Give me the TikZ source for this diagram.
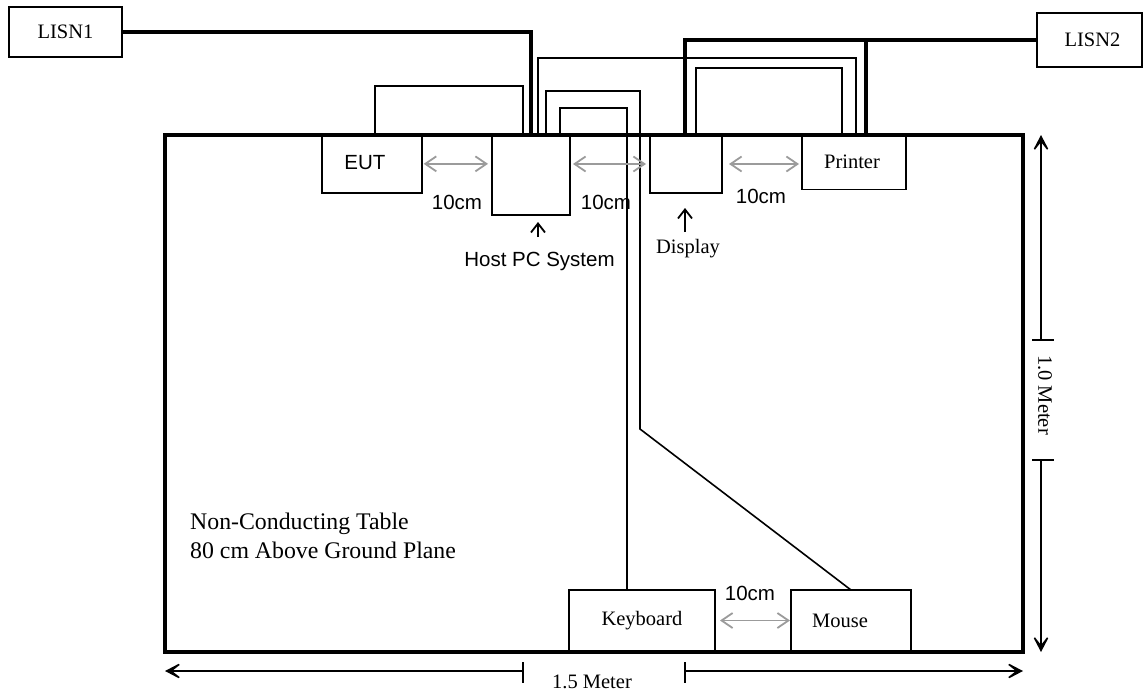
\documentclass[tikz,border=0pt]{standalone}
\usepackage{fontspec}
\setmainfont{Liberation Serif}
\newfontfamily\arialf{Liberation Sans}
\usetikzlibrary{arrows.meta,calc}
\definecolor{dimgrey}{RGB}{155,155,155}
\begin{document}
\begin{tikzpicture}[x=1pt,y=-1pt,
  box/.style={draw, line width=1.9pt, outer sep=0pt, inner sep=0pt, anchor=north west},
  lbl/.style={inner sep=0pt, font=\fontsize{20.5}{24}\selectfont},
  sanslbl/.style={inner sep=0pt, font=\arialf\fontsize{20.5}{24}\selectfont},
  tabletext/.style={inner sep=0pt, anchor=base west, font=\fontsize{23.8}{28}\selectfont},
  cable/.style={line width=1.6pt},
  power/.style={line width=3.2pt},
  gap/.style={draw=dimgrey, line width=1.8pt, {Straight Barb[length=11pt,width=15pt]}-{Straight Barb[length=11pt,width=15pt]}},
  ptr/.style={line width=1.8pt, -{Straight Barb[length=9pt,width=14pt]}},
  dimline/.style={line width=1.5pt},
  bigtip/.tip={Stealth[length=21pt,width=22pt,inset=14pt]}
]
\useasboundingbox (0,0) rectangle (1143,694);

% table
\node[draw, line width=3.3pt, outer sep=0pt, inner sep=0pt, anchor=north west,
      minimum width=858pt, minimum height=517pt] (table) at (165,135) {};

% boxes
\node[box, minimum width=99.7pt, minimum height=57.7pt, label={[sanslbl,xshift=-7pt,yshift=1pt]center:EUT}] (eut) at (322,135) {};
\node[box, minimum width=78pt, minimum height=80pt] (host) at (492,135) {};
\node[box, minimum width=72pt, minimum height=58pt] (display) at (650,135) {};
\node[box, minimum width=104pt, minimum height=54.5pt, label={[lbl,xshift=-2pt]center:Printer}] (printer) at (802,135) {};
\node[box, minimum width=146pt, minimum height=61pt, label={[lbl]center:Keyboard}] (kbd) at (569,590) {};
\node[box, minimum width=120pt, minimum height=61pt, label={[lbl,xshift=-11pt]center:Mouse}] (mouse) at (791,590) {};
\node[box, minimum width=113pt, minimum height=50pt, label={[lbl]center:LISN1}] (lisn1) at (9,7) {};
\node[box, minimum width=105pt, minimum height=54pt, label={[lbl,xshift=3pt]center:LISN2}] (lisn2) at (1037,13) {};

% signal cables
\draw[cable] ([xshift=53pt]eut.north west) -- ++(0,-49) -| ([xshift=31pt]host.north west);
\draw[cable] ([xshift=46pt]host.north west) -- ++(0,-77) -| ([xshift=54pt]printer.north west);
\draw[cable] ([xshift=46pt]display.north west) -- ++(0,-67) -| ([xshift=40pt]printer.north west);
\coordinate (mbend) at (640,429);
\draw[cable] ([xshift=54pt]host.north west) -- ++(0,-44) -| (mbend) -- ([xshift=60pt]mouse.north west);
\draw[cable] ([xshift=68pt]host.north west) -- ++(0,-27) -| ([xshift=58pt]kbd.north west);

% power cables
\draw[power] (lisn1.east) -| ([xshift=39pt]host.north west);
\draw[power] (lisn2.west) -| ([xshift=35pt]display.north west);
\coordinate (prp) at ([xshift=64pt]printer.north west);
\draw[power] (prp |- lisn2.west) -- (prp);

% 10 cm spacings
\draw[gap, shorten <=2pt, shorten >=4pt] (eut.east) -- (eut.east -| host.west);
\draw[gap, shorten <=3pt, shorten >=4pt] (display.west -| host.east) -- (display.west);
\draw[gap, shorten <=7pt, shorten >=3pt] (display.east) -- (display.east -| printer.west);
\draw[gap, shorten <=5pt, shorten >=1pt] (kbd.east) -- (mouse.west);
\node[sanslbl] (d1) at (457,202) {10cm};
\node[sanslbl] (d2) at (606,202) {10cm};
\node[sanslbl] (d3) at (761,196) {10cm};
\node[sanslbl] (d4) at (750,593) {10cm};

% pointers
\node[sanslbl, anchor=base] (hostlbl) at (539.5,266) {Host PC System};
\coordinate (htail) at (538,237);
\draw[ptr, shorten >=7pt] (htail) -- (htail |- host.south);
\node[lbl, anchor=base] (displbl) at (688,253) {Display};
\coordinate (dtail) at (685,232);
\draw[ptr, shorten >=15pt] (dtail) -- (dtail |- display.south);

% table text
\node[tabletext] (t1) at (190,529) {Non-Conducting Table};
\node[tabletext] (t2) at (190,558) {80 cm Above Ground Plane};

% dimensions
\coordinate (bl) at (523,671);
\coordinate (br) at (685,671);
\draw[dimline, -bigtip] (bl) -- (table.south west |- bl);
\draw[dimline, -bigtip] (br) -- (table.south east |- br);
\draw[dimline] (bl) ++(0,-9) -- ++(0,21);
\draw[dimline] (br) ++(0,-9) -- ++(0,21);
\node[lbl, anchor=base] (len) at (592,688) {1.5 Meter};

\coordinate (vt) at (1041,340);
\coordinate (vb) at (1041,460);
\draw[dimline, -bigtip] (vt) -- (vt |- table.north);
\draw[dimline, -bigtip] (vb) -- (vb |- table.south);
\draw[dimline] (vt) ++(-9,0) -- ++(22,0);
\draw[dimline] (vb) ++(-9,0) -- ++(22,0);
\node[lbl, rotate=-90] (wid) at (1045,395) {1.0 Meter};
\end{tikzpicture}
\end{document}
